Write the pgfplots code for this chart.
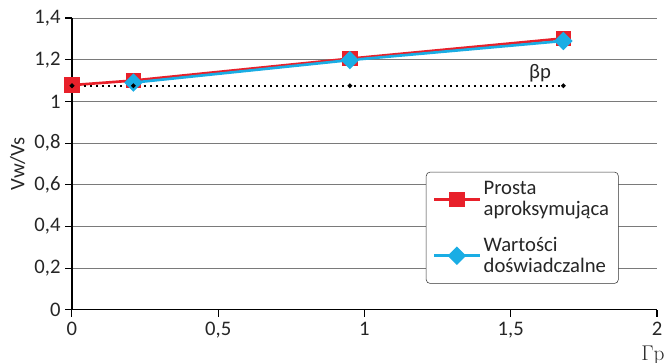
\documentclass[border=0pt]{standalone}
\usepackage{pgfplots}
\pgfplotsset{compat=1.18}
\usepackage{fontspec}
\setmainfont{Carlito}
\newfontfamily\lmr{Latin Modern Roman}
\definecolor{myred}{HTML}{E8202A}
\definecolor{myblue}{HTML}{1AADE4}
\definecolor{gridc}{HTML}{7A7A7A}
\begin{document}
\begin{tikzpicture}
\begin{axis}[
  width=439pt, height=219pt, scale only axis,
  xmin=0, xmax=2, ymin=0, ymax=1.4,
  xtick={0,0.5,1,1.5,2}, ytick={0,0.2,0.4,0.6,0.8,1,1.2,1.4},
  axis x line=bottom, axis y line=left,
  axis line style={-, black, line width=0.9pt},
  xmajorgrids=false, ymajorgrids=true, grid style={gridc, line width=0.7pt},
  tick style={black, line width=0.8pt},
  major tick length=5pt,
  xtick align=outside, ytick align=outside,
  tick label style={font=\fontsize{15.5}{17}\selectfont, text=black!85},
  xticklabel style={yshift=-1pt},
  /pgf/number format/use comma,
  /pgf/number format/assume math mode=true,
  ylabel={Vw/Vs}, ylabel style={font=\fontsize{15.5}{17}\selectfont, text=black!85},
  clip=false,
  legend style={at={(rel axis cs:0.605,0.473)}, anchor=north west, draw=black!80, rounded corners=3pt, font=\fontsize{15.5}{15.5}\selectfont, text=black!85, cells={align=left, anchor=west}, row sep=11pt, inner sep=5pt},
  legend cell align=left,
  legend image code/.code={\draw[#1] (0cm,0cm) -- (0.6cm,0cm); \draw[#1,mark repeat=2,mark phase=2] plot coordinates {(0cm,0cm) (0.6cm,0cm) (1.2cm,0cm)}; \draw[#1] (0.6cm,0cm) -- (1.2cm,0cm);},
]
\addplot[myred, line width=2pt, mark=square*, mark size=5pt, mark options={fill=myred, draw=myred, line width=1.6pt}] coordinates {(0,1.078) (0.21,1.10) (0.95,1.205) (1.68,1.302)};
\addlegendentry{Prosta\\aproksymująca}
\addplot[myblue, line width=2pt, mark=square*, mark size=4.1pt, mark options={fill=myblue, draw=myblue, rotate=45, line width=1.6pt}] coordinates {(0.21,1.09) (0.95,1.198) (1.68,1.29)};
\addlegendentry{Wartości\\doświadczalne}
\addplot[black, dash pattern=on 1.5pt off 3pt, line width=1.3pt, mark=*, mark size=1pt, mark options={solid}, forget plot] coordinates {(0,1.075) (0.21,1.075) (0.95,1.075) (1.68,1.075)};
\node[font=\fontsize{15.5}{17}\selectfont, text=black!85] at (axis cs:1.6,1.135) {βp};
\node[font=\lmr\fontsize{16}{17}\selectfont, text=black!85, anchor=north, inner sep=1pt] at (axis cs:1.986,-0.165) {Γp};
\coordinate (sw) at (rel axis cs:0,0);
\coordinate (ne) at (rel axis cs:1,1);
\end{axis}
\pgfresetboundingbox
\path ([shift={(-54pt,-39.8pt)}]sw) rectangle ([shift={(5.25pt,13.5pt)}]ne);
\end{tikzpicture}
\end{document}
